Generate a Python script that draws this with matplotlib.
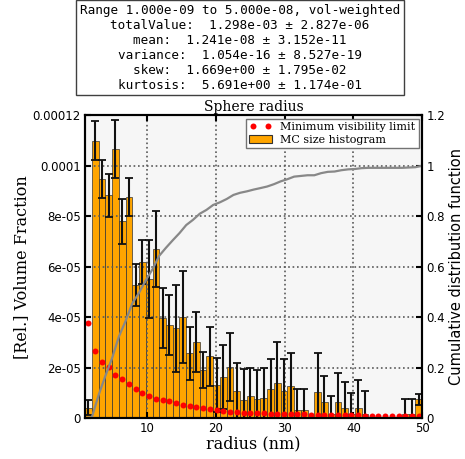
import numpy as np
import matplotlib
matplotlib.use('Agg')
import matplotlib.pyplot as plt
from matplotlib.ticker import FuncFormatter
from matplotlib.patches import Patch
from matplotlib.lines import Line2D

# ---------------- data ----------------
radius_range = (1.0, 50.0)   # nm
n_bins = 50

# volume fraction per bin (units of 1e-5)
vol_frac_e5 = [0.42, 10.99, 9.47, 8.83, 10.66, 7.80, 8.77, 5.26, 6.19, 5.50,
               6.70, 3.96, 3.70, 3.56, 4.00, 2.57, 3.03, 1.91, 2.46, 1.31,
               1.64, 2.01, 1.08, 0.71, 0.87, 0.74, 0.78, 1.15, 1.40, 1.08,
               1.28, 0.34, 0.34, 0.00, 1.04, 0.65, 0.16, 0.65, 0.42, 0.18,
               0.42, 0.16, 0.00, 0.00, 0.00, 0.00, 0.00, 0.16, 0.16, 0.74]
# error per bin (units of 1e-5)
vol_err_e5 = [0.30, 0.77, 0.75, 0.86, 1.15, 0.90, 0.75, 0.83, 0.86, 1.55,
              1.50, 1.19, 1.19, 1.72, 1.81, 1.06, 1.19, 0.73, 1.17, 1.06,
              1.26, 1.35, 1.12, 1.25, 1.10, 1.16, 1.19, 1.19, 1.62, 1.25,
              1.31, 0.83, 0.83, 0.00, 1.54, 1.00, 0.71, 1.15, 1.00, 0.80,
              1.10, 0.90, 0.00, 0.00, 0.00, 0.00, 0.00, 0.58, 0.58, 0.20]
# minimum visibility limit per bin (units of 1e-5)
min_vis_e5 = [3.75, 2.65, 2.23, 2.03, 1.72, 1.55, 1.35, 1.15, 0.98, 0.89,
              0.76, 0.72, 0.66, 0.61, 0.54, 0.50, 0.46, 0.41, 0.37, 0.33,
              0.29, 0.26, 0.24, 0.22, 0.21, 0.20, 0.19, 0.18, 0.17, 0.165,
              0.16, 0.15, 0.145, 0.14, 0.135, 0.13, 0.125, 0.12, 0.115, 0.11,
              0.105, 0.10, 0.097, 0.094, 0.091, 0.088, 0.085, 0.082, 0.079, 0.076]

stats_lines = [
    "Range 1.000e-09 to 5.000e-08, vol-weighted",
    "totalValue:  1.298e-03 \u00b1 2.827e-06",
    "mean:  1.241e-08 \u00b1 3.152e-11",
    "variance:  1.054e-16 \u00b1 8.527e-19",
    "skew:  1.669e+00 \u00b1 1.795e-02",
    "kurtosis:  5.691e+00 \u00b1 1.174e-01",
]
x_ticks = [10, 20, 30, 40, 50]
left_ticks = [0, 2e-5, 4e-5, 6e-5, 8e-5, 1e-4, 1.2e-4]
right_ticks = [0, 0.2, 0.4, 0.6, 0.8, 1.0, 1.2]

# ---------------- derived ----------------
edges = np.linspace(radius_range[0], radius_range[1], n_bins + 1)
centers = 0.5 * (edges[:-1] + edges[1:])
width = edges[1] - edges[0]
vol = np.array(vol_frac_e5) * 1e-5
err = np.array(vol_err_e5) * 1e-5
minvis = np.array(min_vis_e5) * 1e-5
cdf = np.concatenate([[0.0], np.cumsum(vol) / np.sum(vol)])

serif = 'DejaVu Serif'
fmt = FuncFormatter(lambda v, p: '%g' % v)

fig = plt.figure(figsize=(4.65, 4.59), dpi=100)
ax = fig.add_axes([0.183, 0.089, 0.725, 0.660])
ax.set_facecolor('#f6f6f6')

ax.bar(edges[:-1], vol, width=width, align='edge', color='#ffa500',
       edgecolor='#333333', linewidth=0.5, zorder=1)
mask = err > 0
ax.errorbar(centers[mask], vol[mask], yerr=err[mask], fmt='none',
            ecolor='#111111', elinewidth=1.5, capsize=3, capthick=1.3, zorder=3)
ax.plot(centers, minvis, 'o', color='red', ms=4.3, mec='none', zorder=4)

ax.set_axisbelow(False)
ax.grid(True, ls=':', color='0.35', lw=1.2)
ax.set_xlim(*radius_range)
ax.set_ylim(0, 1.2e-4)
ax.set_xticks(x_ticks)
ax.set_yticks(left_ticks)
ax.yaxis.set_major_formatter(fmt)
ax.tick_params(direction='in', length=4, width=1.5, top=True, right=False,
               labelsize=8.5, pad=3)
for s in ax.spines.values():
    s.set_linewidth(1.5)

ax2 = ax.twinx()
ax2.plot(edges, cdf, color='#888888', lw=1.6, zorder=2)
ax2.set_ylim(0, 1.2)
ax2.set_yticks(right_ticks)
ax2.yaxis.set_major_formatter(fmt)
ax2.tick_params(direction='in', length=4, width=1.5, labelsize=8.5, pad=3)
for s in ax2.spines.values():
    s.set_linewidth(1.5)

ax.set_xlabel('radius (nm)', family=serif, fontsize=11.5, labelpad=0)
ax.set_ylabel('[Rel.] Volume Fraction', family=serif, fontsize=11.5, labelpad=2)
ax2.set_ylabel('Cumulative distribution function', family='DejaVu Sans',
               fontsize=10.5, labelpad=3)
ax.set_title('Sphere radius', family=serif, fontsize=10, pad=3)

handles = [Line2D([], [], ls='none', marker='o', color='red', ms=4.3, mec='none'),
           Patch(facecolor='#ffa500', edgecolor='#333333', linewidth=0.8)]
leg = ax2.legend(handles, ['Minimum visibility limit', 'MC size histogram'],
                 loc='upper right', numpoints=2, prop={'family': serif, 'size': 8},
                 fancybox=False, edgecolor='0.45', framealpha=1,
                 borderpad=0.3, labelspacing=0.25, handlelength=2.0,
                 handletextpad=0.8, borderaxespad=0.3)
leg.get_frame().set_linewidth(1.0)

fig.text(0.516, 0.992, '\n'.join(stats_lines), ha='center', va='top',
         multialignment='center', family='DejaVu Sans Mono', fontsize=9.1,
         linespacing=1.2,
         bbox=dict(boxstyle='square,pad=0.3', fc='white', ec='0.25', lw=1.0))

fig.savefig('out.png', dpi=100)
